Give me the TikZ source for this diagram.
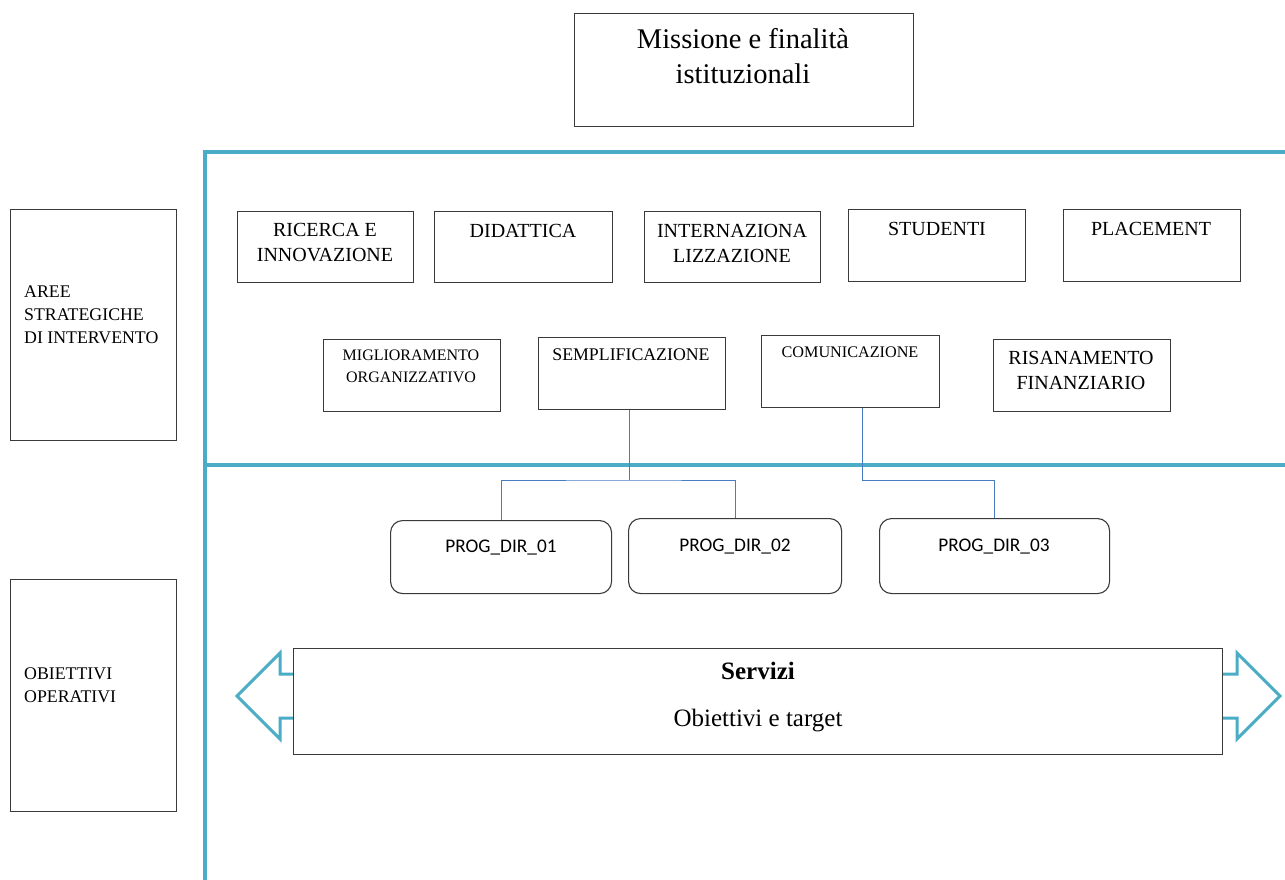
\documentclass[tikz,border=0pt]{standalone}
\usepackage{fontspec}
\setmainfont{Liberation Serif}
\newfontfamily\calfont{Carlito}
\definecolor{frameblue}{HTML}{4BACC6}
\definecolor{connblue}{HTML}{4A7CC4}
\definecolor{boxgray}{HTML}{3A3A3A}
\begin{document}
\begin{tikzpicture}[x=1pt,y=-1pt,
  box/.style={draw=boxgray, line width=1.1pt, inner sep=0pt, anchor=north west},
  rbox/.style={box, rounded corners=12pt},
  frame/.style={draw=frameblue, line width=4.5pt},
  arr/.style={draw=frameblue, line width=3pt, line join=miter},
  conn/.style={draw=connblue, line width=0.9pt},
  big/.style={font=\fontsize{20}{25}\selectfont, align=center, inner sep=0pt},
  small/.style={font=\fontsize{16}{22}\selectfont, align=center, inner sep=0pt},
  side/.style={font=\fontsize{17.8}{23}\selectfont, align=left, inner sep=0pt, anchor=west},
  prog/.style={font=\calfont\fontsize{19.3}{22}\selectfont, inner sep=0pt}
]
\useasboundingbox (0,0) rectangle (1285,879);

% mission
\node[box, minimum width=339pt, minimum height=113pt] (mis) at (574,13) {};
\node[font=\fontsize{28.5}{35}\selectfont, align=center, inner sep=0pt] (mist) at (743,56) {Missione e finalità\\istituzionali};

% blue frame
\coordinate (fa) at (205,1000);
\coordinate (fb) at (205,152);
\coordinate (fc) at (1290,152);
\coordinate (fd) at (205,465);
\coordinate (fe) at (1290,465);
\draw[frame] (fa) -- (fb) -- (fc);
\draw[frame] (fd) -- (fe);

% side boxes
\node[box, minimum width=166pt, minimum height=231pt] (s1) at (10,209) {};
\node[side] (s1t) at (24,315) {AREE\\STRATEGICHE\\DI INTERVENTO};
\node[box, minimum width=166pt, minimum height=232pt] (s2) at (10,579) {};
\node[side] (s2t) at (24,685) {OBIETTIVI\\OPERATIVI};

% row 1
\node[box, minimum width=176pt, minimum height=71pt] (r1) at (237,211) {};
\node[big] (r1t) at (325,243) {RICERCA E\\INNOVAZIONE};
\node[box, minimum width=178pt, minimum height=71pt] (r2) at (434,211) {};
\node[big] (r2t) at (523,231) {DIDATTICA};
\node[box, minimum width=176pt, minimum height=71pt] (r3) at (644,211) {};
\node[big] (r3t) at (732,243) {INTERNAZIONA\\LIZZAZIONE};
\node[box, minimum width=177pt, minimum height=72pt] (r4) at (848,209) {};
\node[big] (r4t) at (937,229) {STUDENTI};
\node[box, minimum width=177pt, minimum height=72pt] (r5) at (1063,209) {};
\node[big] (r5t) at (1151,229) {PLACEMENT};

% row 2
\node[box, minimum width=177pt, minimum height=72pt] (q1) at (323,339) {};
\node[small] (q1t) at (411,366) {MIGLIORAMENTO\\ORGANIZZATIVO};
\node[box, minimum width=187pt, minimum height=72pt] (sem) at (538,337) {};
\node[small, font=\fontsize{17.8}{22}\selectfont] (semt) at (631,355) {SEMPLIFICAZIONE};
\node[box, minimum width=178pt, minimum height=72pt] (com) at (761,335) {};
\node[small, font=\fontsize{16.2}{22}\selectfont] (comt) at (850,352) {COMUNICAZIONE};
\node[box, minimum width=177pt, minimum height=72pt] (q4) at (993,339) {};
\node[big] (q4t) at (1081,370) {RISANAMENTO\\FINANZIARIO};

% programmes
\node[rbox, minimum width=221pt, minimum height=73pt] (p1) at (390,520) {};
\node[prog] (p1t) at (501,548) {PROG\_DIR\_01};
\node[rbox, minimum width=213pt, minimum height=75pt] (p2) at (628,518) {};
\node[prog] (p2t) at (735,547) {PROG\_DIR\_02};
\node[rbox, minimum width=230pt, minimum height=75pt] (p3) at (879,518) {};
\node[prog] (p3t) at (994,547) {PROG\_DIR\_03};

% connectors
\coordinate (j1) at (629,480);
\coordinate (j2) at (862,480);
\draw[conn] (j1 |- sem.south) -- (j1);
\draw[conn] (p1.north) |- (j1) -| (p2.north);
\draw[conn] (j2 |- com.south) -- (j2) -| (p3.north);

% arrows
\coordinate (la1) at (293,674);
\coordinate (la2) at (293,718);
\coordinate (ra1) at (1222,674);
\coordinate (ra2) at (1222,718);
\draw[arr] (la1) -- (280,674) -- (280,653) -- (237,696) -- (280,739) -- (280,718) -- (la2);
\draw[arr] (ra1) -- (1237,674) -- (1237,653) -- (1280,696) -- (1237,739) -- (1237,718) -- (ra2);

% servizi
\node[box, fill=white, minimum width=929pt, minimum height=106pt] (srv) at (293,648) {};
\node[font=\fontsize{25}{30}\selectfont\bfseries, inner sep=0pt] (srvt) at (758,671) {Servizi};
\node[font=\fontsize{25}{30}\selectfont, inner sep=0pt] (srvs) at (758,721) {Obiettivi e target};
\end{tikzpicture}
\end{document}
